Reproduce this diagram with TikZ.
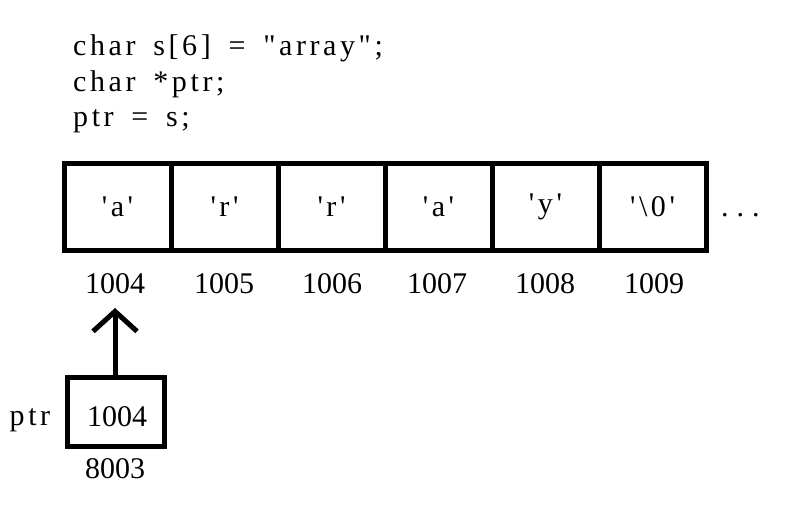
\documentclass[tikz,border=0pt]{standalone}
\usepackage{fontspec}
\setmainfont{Liberation Serif}
\newfontfamily\codefont[LetterSpace=12, WordSpace=1.6]{Liberation Serif}
\usetikzlibrary{arrows.meta}
\begin{document}
\begin{tikzpicture}[x=1pt,y=-1pt,
  cell/.style={draw, line width=5pt, minimum width=107pt, minimum height=86.5pt, inner sep=0pt, font=\codefont\fontsize{30}{34}\selectfont},
  addr/.style={inner sep=1pt, font=\fontsize{30}{34}\selectfont},
  code/.style={anchor=base west, inner sep=0pt, font=\codefont\fontsize{30}{34}\selectfont},
  ptrbox/.style={draw, line width=5pt, minimum width=97pt, minimum height=69pt, inner sep=0pt},
  link/.style={line width=5pt, -{Straight Barb[length=20pt, width=44pt, line width=5pt]}}]
\useasboundingbox[fill=white] (0,0) rectangle (785,525);
% code
\node[code] (l1) at (73,55) {char s[6] = "array";};
\node[code] (l2) at (73,91) {char *ptr;};
\node[code] (l3) at (73,126) {ptr = s;};
% array cells
\node[cell] (c0) at (117.5,207) {'a'};
\node[cell] (c1) at (224.5,207) {'r'};
\node[cell] (c2) at (331.5,207) {'r'};
\node[cell] (c3) at (438.5,207) {'a'};
\node[cell] (c4) at (545.5,207) {'y'};
\node[cell] (c5) at (652.5,207) {'\textbackslash 0'};
\node[anchor=base west, inner sep=0pt, font=\fontsize{30}{34}\selectfont] (dots) at (721,216) {.\hspace{8pt}.\hspace{8pt}.};
% addresses
\node[addr] (a0) at (115,284) {1004};
\node[addr] (a1) at (224,284) {1005};
\node[addr] (a2) at (332,284) {1006};
\node[addr] (a3) at (437,284) {1007};
\node[addr] (a4) at (545,284) {1008};
\node[addr] (a5) at (654,284) {1009};
% pointer
\node[ptrbox] (pbox) at (116,412) {};
\node[addr] (pval) at (117,417) {1004};
\node[addr] (paddr) at (115,469) {8003};
\node[code, anchor=base] (pname) at (30,425) {ptr};
\coordinate (tip) at (115,308);
\draw[link] (pbox.north -| tip) -- (tip);
\end{tikzpicture}
\end{document}
